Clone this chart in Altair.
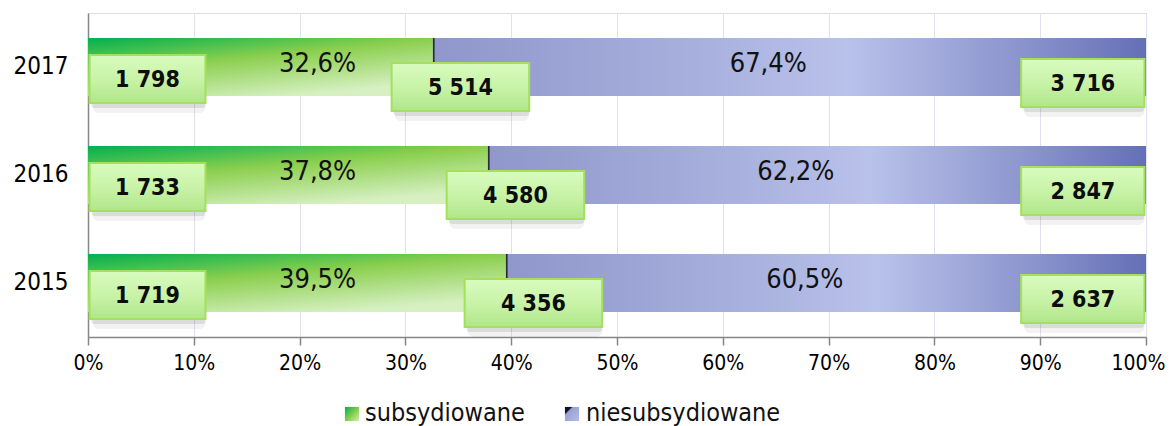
import altair as alt
import pandas as pd

# ---- data ----
years = ["2017", "2016", "2015"]
subsidised = [1798, 1733, 1719]
unsubsidised = [3716, 2847, 2637]
totals = [5514, 4580, 4356]
share_sub = [32.6, 37.8, 39.5]
share_unsub = [67.4, 62.2, 60.5]
x_ticks = [0, 10, 20, 30, 40, 50, 60, 70, 80, 90, 100]
legend_labels = ["subsydiowane", "niesubsydiowane"]

FONT = "DejaVu Sans Condensed"


def fmt_int(n):
    return f"{n:,}".replace(",", " ")


def fmt_pct(v):
    return f"{v:.1f}%".replace(".", ",")


df = pd.DataFrame({
    "year": years,
    "sub": subsidised,
    "unsub": unsubsidised,
    "total": totals,
    "sub_pct": share_sub,
    "unsub_pct": share_unsub,
})
df["sub_lbl"] = [fmt_int(v) for v in subsidised]
df["unsub_lbl"] = [fmt_int(v) for v in unsubsidised]
df["total_lbl"] = [fmt_int(v) for v in totals]
df["sub_pct_lbl"] = [fmt_pct(v) for v in share_sub]
df["unsub_pct_lbl"] = [fmt_pct(v) for v in share_unsub]

W, H = 1058, 324

x_scale = alt.Scale(domain=[0, 100], nice=False, zero=True)
x_axis = alt.Axis(
    values=x_ticks, labelExpr="datum.value + '%'", title=None,
    labelFont=FONT, labelFontSize=21, labelColor="#000000", labelPadding=7,
    labelFlush=False, labelOverlap=False,
    labelOffset={"condition": {"test": "datum.value == 100", "value": -8}, "value": 0},
    tickSize=8, tickColor="#868686", tickWidth=1.5,
    domainColor="#868686", domainWidth=1.5,
    grid=True, gridColor="#dfe1f1", gridWidth=1,
)
y_enc = alt.Y(
    "year:N", sort=years, title=None,
    scale=alt.Scale(paddingInner=0, paddingOuter=0),
    axis=alt.Axis(labelFont=FONT, labelFontSize=24, labelColor="#000000",
                  labelPadding=20, ticks=False, domainColor="#868686",
                  domainWidth=1.5, grid=False),
)


def X(field):
    return alt.X(field, type="quantitative", scale=x_scale, axis=x_axis)


base = alt.Chart(df).transform_calculate(
    zero="0",
    full="100",
    edge="datum.sub_pct + 0.16",
    s_x1="0.15", s_x2="11.1",
    t_x1="datum.sub_pct - 3.9", t_x2="datum.sub_pct + 9.1",
    u_x1="88.2", u_x2="99.85",
    s_mid="(0.15 + 11.1) / 2",
    t_mid="datum.sub_pct + 2.6",
    u_mid="(88.2 + 99.85) / 2",
    green_lbl="21.7",
    blue_lbl="(datum.sub_pct + 100) / 2 - 2",
)

green_grad = alt.Gradient(
    gradient="linear", x1=0, y1=0, x2=0.6, y2=1,
    stops=[alt.GradientStop(color="#00b050", offset=0),
           alt.GradientStop(color="#8bcf4e", offset=0.45),
           alt.GradientStop(color="#d6f0c2", offset=1)],
)
blue_grad = alt.Gradient(
    gradient="linear", x1=0, y1=0, x2=1, y2=0,
    stops=[alt.GradientStop(color="#8f97cb", offset=0),
           alt.GradientStop(color="#aab2df", offset=0.4),
           alt.GradientStop(color="#b9c2ea", offset=0.58),
           alt.GradientStop(color="#8c95cd", offset=0.82),
           alt.GradientStop(color="#6470b6", offset=1)],
)
box_grad = alt.Gradient(
    gradient="linear", x1=0, y1=0, x2=0, y2=1,
    stops=[alt.GradientStop(color="#d8fbbf", offset=0),
           alt.GradientStop(color="#c9f3a8", offset=0.5),
           alt.GradientStop(color="#b0e68a", offset=1)],
)

green_bar = base.mark_bar(height=58, fill=green_grad).encode(
    x=X("zero"), x2="sub_pct", y=y_enc)
blue_bar = base.mark_bar(height=58, fill=blue_grad).encode(
    x=X("sub_pct"), x2="full", y=y_enc)
edge_bar = base.mark_bar(height=58, fill="#2b2b3b").encode(
    x=X("sub_pct"), x2="edge", y=y_enc)

pct_green = base.mark_text(font=FONT, fontSize=27, color="#111111", dy=-3).encode(
    x=X("green_lbl"), y=y_enc, text="sub_pct_lbl")
pct_blue = base.mark_text(font=FONT, fontSize=27, color="#111111", dy=-3).encode(
    x=X("blue_lbl"), y=y_enc, text="unsub_pct_lbl")


def box_layers(x1, x2, mid, off, label):
    shadow2 = base.mark_bar(height=56, xOffset=3, yOffset=off + 6, fill="#000000",
                            opacity=0.05, cornerRadius=6).encode(
        x=X(x1), x2=x2, y=y_enc)
    shadow1 = base.mark_bar(height=50, xOffset=2, yOffset=off + 4, fill="#000000",
                            opacity=0.09, cornerRadius=3).encode(
        x=X(x1), x2=x2, y=y_enc)
    box = base.mark_bar(height=48, yOffset=off, fill=box_grad,
                        stroke="#a4e05a", strokeWidth=2).encode(
        x=X(x1), x2=x2, y=y_enc)
    txt = base.mark_text(font=FONT, fontSize=23, fontWeight="bold",
                         color="#0d0d0d", dy=off + 1).encode(
        x=X(mid), y=y_enc, text=label)
    return [shadow2, shadow1, box, txt]


layers = [green_bar, blue_bar, edge_bar, pct_green, pct_blue]
layers += box_layers("s_x1", "s_x2", "s_mid", 12, "sub_lbl")
layers += box_layers("t_x1", "t_x2", "t_mid", 20, "total_lbl")
layers += box_layers("u_x1", "u_x2", "u_mid", 16, "unsub_lbl")

# ---- manual legend below the plot ----
leg_df = pd.DataFrame({"label": legend_labels})
leg_green_icon = alt.Chart(leg_df).transform_filter(
    alt.datum.label == legend_labels[0]).mark_square(
    size=200, fill=alt.Gradient(
        gradient="linear", x1=0, y1=0, x2=1, y2=1,
        stops=[alt.GradientStop(color="#00b050", offset=0),
               alt.GradientStop(color="#8bcf4e", offset=0.55),
               alt.GradientStop(color="#d0efb8", offset=1)]),
    opacity=1).encode(x=alt.value(264), y=alt.value(401))
leg_blue_icon = alt.Chart(leg_df).transform_filter(
    alt.datum.label == legend_labels[1]).mark_square(
    size=200, fill=alt.Gradient(
        gradient="linear", x1=0, y1=0, x2=1, y2=1,
        stops=[alt.GradientStop(color="#111122", offset=0),
               alt.GradientStop(color="#111122", offset=0.22),
               alt.GradientStop(color="#9aa2d6", offset=0.3),
               alt.GradientStop(color="#b4bce6", offset=1)]),
    opacity=1).encode(x=alt.value(484), y=alt.value(401))
leg_green_txt = alt.Chart(leg_df).transform_filter(
    alt.datum.label == legend_labels[0]).mark_text(
    font=FONT, fontSize=25, color="#111111", align="left",
    baseline="alphabetic").encode(x=alt.value(277), y=alt.value(408), text="label")
leg_blue_txt = alt.Chart(leg_df).transform_filter(
    alt.datum.label == legend_labels[1]).mark_text(
    font=FONT, fontSize=25, color="#111111", align="left",
    baseline="alphabetic").encode(x=alt.value(498), y=alt.value(408), text="label")

layers += [leg_green_icon, leg_blue_icon, leg_green_txt, leg_blue_txt]

chart = alt.layer(*layers).properties(
    width=W, height=H,
    autosize=alt.AutoSizeParams(type="none"),
    padding={"left": 80, "top": 5, "right": 21, "bottom": 89},
).configure_view(stroke=None).configure(background="#ffffff")

chart.save("out.html", embed_options={"renderer": "svg", "actions": False})
